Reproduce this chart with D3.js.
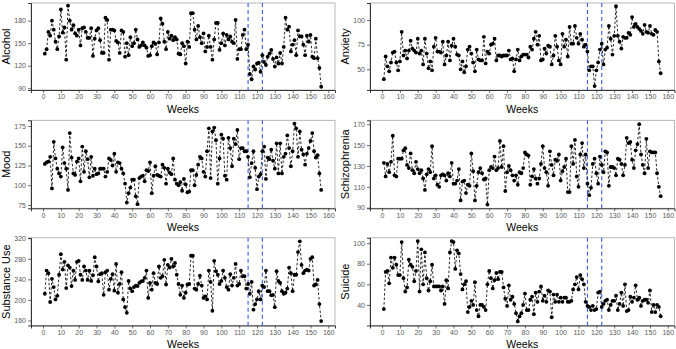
<!doctype html>
<html>
<head>
<script src="https://d3js.org/d3.v7.min.js"></script>
<style>
  body { margin: 0; background: #fff; }
  text { font-family: "Liberation Sans", Arial, Helvetica, sans-serif; }
  .tick text { fill: #595959; font-size: 7px; }
  .title { font-size: 11px; fill: #000; }
  .xtitle { font-size: 10.5px; fill: #000; }
</style>
</head>
<body>
<div id="chart"></div>
<script>
// weekly counts, weeks 1..156
var alcohol = [136,142,165,160,180,168,152,142,159,195,
  164,171,128,200,180,168,174,163,160,168,
  147,170,171,165,157,157,170,133,156,167,
  170,154,137,137,184,181,128,168,168,167,
  153,151,137,167,165,132,150,134,158,146,
  150,168,155,145,147,151,147,144,133,134,
  146,151,149,135,151,183,176,152,142,165,
  156,160,154,158,155,136,135,150,146,123,
  152,145,190,190,168,155,173,158,150,163,
  139,145,160,145,128,155,177,177,141,150,
  163,147,161,155,159,152,150,181,129,142,
  142,161,168,142,148,109,102,119,115,123,
  124,112,134,125,121,132,136,141,129,119,
  131,123,137,123,145,184,168,172,139,148,
  154,134,167,159,159,148,134,160,152,161,
  132,130,156,130,117,92];

var anxiety = [40,63,53,48,57,67,68,57,49,58,
  88,64,69,61,69,79,71,69,67,81,
  66,69,55,81,66,51,58,49,73,82,
  68,68,67,78,55,64,78,59,74,81,
  73,65,64,50,58,47,53,70,73,66,
  57,48,70,60,59,59,83,56,68,66,
  75,76,81,59,64,64,63,64,64,64,
  69,60,61,48,60,70,59,63,65,65,
  65,62,73,70,81,88,75,84,59,60,
  71,66,74,73,55,64,84,73,59,55,
  86,73,80,63,93,76,76,94,82,76,
  86,80,73,75,68,49,53,53,33,49,
  57,70,76,55,70,72,94,81,65,84,
  114,84,78,71,83,82,82,87,85,103,
  93,96,93,91,89,86,95,88,87,94,
  86,85,90,88,58,46];

var mood = [127,129,130,136,96,155,134,121,115,111,
  148,128,121,94,166,135,115,113,130,134,
  105,149,117,143,133,110,136,112,121,114,
  115,121,121,121,111,117,134,132,125,140,
  117,129,128,121,115,102,78,90,97,107,
  107,86,76,109,111,112,105,119,118,129,
  90,112,124,113,112,111,126,122,102,121,
  116,114,134,107,102,100,104,93,108,101,
  91,92,119,119,100,113,126,136,134,117,
  111,143,172,109,168,173,157,102,134,164,
  159,112,107,160,147,124,159,152,170,133,
  147,147,143,143,136,110,128,143,122,95,
  111,114,143,149,108,135,133,145,131,121,
  153,115,153,115,136,140,163,147,124,143,
  178,172,136,168,145,139,126,140,147,156,
  166,143,135,138,115,94];

var schizophrenia = [133,120,132,124,134,159,121,120,137,137,
  137,145,147,131,128,142,126,123,134,127,
  123,126,118,107,122,127,124,149,118,121,
  112,110,121,122,121,116,123,120,133,113,
  113,116,127,97,115,116,104,112,111,142,
  125,97,111,124,128,123,117,118,93,126,
  129,128,139,126,128,154,129,149,106,124,
  130,126,121,116,121,112,124,123,128,143,
  141,140,112,120,127,118,113,118,132,149,
  128,124,111,144,131,121,136,135,141,116,
  125,129,137,105,105,149,132,155,120,110,
  141,152,128,141,113,102,109,132,137,123,
  113,139,131,124,144,143,111,129,129,128,
  121,137,136,132,121,131,157,152,153,136,
  128,145,151,170,141,131,123,156,128,144,
  143,143,143,123,110,101];

var substanceUse = [212,257,252,196,241,225,201,208,249,289,
  259,274,223,267,263,227,257,239,274,276,
  249,239,265,257,239,257,237,248,283,265,
  236,250,252,210,254,257,220,241,250,218,
  270,214,231,254,201,186,175,237,222,217,
  225,228,227,233,236,237,243,257,204,233,
  220,252,233,231,265,243,246,278,230,268,
  263,280,265,272,249,231,210,228,204,214,
  230,231,286,286,222,220,231,247,228,204,
  207,201,257,235,179,276,256,249,231,237,
  257,243,225,220,250,228,243,270,228,231,
  257,246,246,222,231,212,235,181,192,201,
  217,201,228,225,257,217,217,209,210,186,
  256,237,233,217,212,214,222,263,252,217,
  249,249,293,314,268,252,257,259,257,280,
  283,228,230,239,192,159];

var suicide = [36,72,73,61,86,76,86,79,69,69,
  101,66,53,57,84,79,77,63,73,102,
  53,94,60,91,66,54,63,79,58,58,
  58,58,54,58,41,64,56,91,102,101,
  75,93,90,70,55,60,63,33,38,44,
  40,62,35,29,40,40,38,35,60,73,
  66,56,64,71,65,72,72,57,46,39,
  59,45,48,41,32,24,29,32,40,51,
  35,35,45,48,31,52,43,53,58,44,
  49,43,54,53,28,50,43,50,43,47,
  43,47,47,43,43,44,55,60,67,55,
  69,65,60,43,39,38,35,39,35,36,
  52,53,38,41,44,45,35,40,44,44,
  49,35,41,52,39,60,34,35,48,43,
  47,59,45,47,39,44,45,45,42,54,
  33,40,33,40,38,29];

var xTicks = d3.range(0, 161, 10);
var breakWeeks = [115, 123];

var alcoholTicks = [90, 120, 150, 180];
var anxietyTicks = [50, 75, 100];
var moodTicks = [75, 100, 125, 150, 175];
var schizTicks = [90, 110, 130, 150, 170];
var substanceTicks = [160, 200, 240, 280, 320];
var suicideTicks = [40, 60, 80, 100];

var W = 676, H = 349;
var colX = [[31, 335], [370, 674.5]];
var rowY = [[3, 90], [120.3, 208.3], [237.8, 325.5]];

var panels = [
  {name: "Alcohol", values: alcohol, ticks: alcoholTicks, domain: [87.7, 203.5], col: 0, row: 0},
  {name: "Anxiety", values: anxiety, ticks: anxietyTicks, domain: [29, 117.3], col: 1, row: 0},
  {name: "Mood", values: mood, ticks: moodTicks, domain: [70.8, 182.2], col: 0, row: 1},
  {name: "Schizophrenia", values: schizophrenia, ticks: schizTicks, domain: [89.4, 173.8], col: 1, row: 1},
  {name: "Substance Use", values: substanceUse, ticks: substanceTicks, domain: [150.3, 320.8], col: 0, row: 2},
  {name: "Suicide", values: suicide, ticks: suicideTicks, domain: [20, 105.2], col: 1, row: 2}
];

var svg = d3.select("#chart").append("svg")
  .attr("width", W).attr("height", H);

panels.forEach(function(p) {
  var xr = colX[p.col], yr = rowY[p.row];
  var x = d3.scaleLinear().domain([-6.75, 163.75]).range(xr);
  var y = d3.scaleLinear().domain(p.domain).range([yr[1], yr[0]]);
  var g = svg.append("g");

  // panel border
  g.append("rect")
    .attr("x", xr[0]).attr("y", yr[0])
    .attr("width", xr[1] - xr[0]).attr("height", yr[1] - yr[0])
    .attr("fill", "none").attr("stroke", "#a6a6a6").attr("stroke-width", 0.8);

  var xa = g.append("g").attr("transform", "translate(0," + yr[1] + ")")
    .call(d3.axisBottom(x).tickValues(xTicks).tickSize(3).tickPadding(1.5).tickFormat(d3.format("d")));
  var ya = g.append("g").attr("transform", "translate(" + xr[0] + ",0)")
    .call(d3.axisLeft(y).tickValues(p.ticks).tickSize(3).tickPadding(2));
  [xa, ya].forEach(function(a) {
    a.select(".domain").attr("stroke", "#222").attr("stroke-width", 0.9);
    a.selectAll(".tick line").attr("stroke", "#333").attr("stroke-width", 0.7);
  });

  // break lines
  g.selectAll(".vline").data(breakWeeks).enter().append("line")
    .attr("x1", function(d) { return x(d); }).attr("x2", function(d) { return x(d); })
    .attr("y1", yr[0]).attr("y2", yr[1])
    .attr("stroke", "#3a5cf0").attr("stroke-width", 1.1).attr("stroke-dasharray", "4,3");

  var line = d3.line()
    .x(function(d, i) { return x(i + 1); })
    .y(function(d) { return y(d); });
  g.append("path").datum(p.values)
    .attr("d", line).attr("fill", "none")
    .attr("stroke", "#111").attr("stroke-width", 0.9).attr("stroke-dasharray", "2.5,2");

  g.selectAll(".pt").data(p.values).enter().append("circle")
    .attr("cx", function(d, i) { return x(i + 1); })
    .attr("cy", function(d) { return y(d); })
    .attr("r", 1.9).attr("fill", "#000");

  g.append("text").attr("class", "xtitle")
    .attr("x", (xr[0] + xr[1]) / 2).attr("y", yr[1] + 22.5)
    .attr("text-anchor", "middle").text("Weeks");

  g.append("text").attr("class", "title")
    .attr("transform", "translate(" + (xr[0] - 21) + "," + ((yr[0] + yr[1]) / 2) + ") rotate(-90)")
    .attr("text-anchor", "middle").text(p.name);
});
</script>
</body>
</html>
